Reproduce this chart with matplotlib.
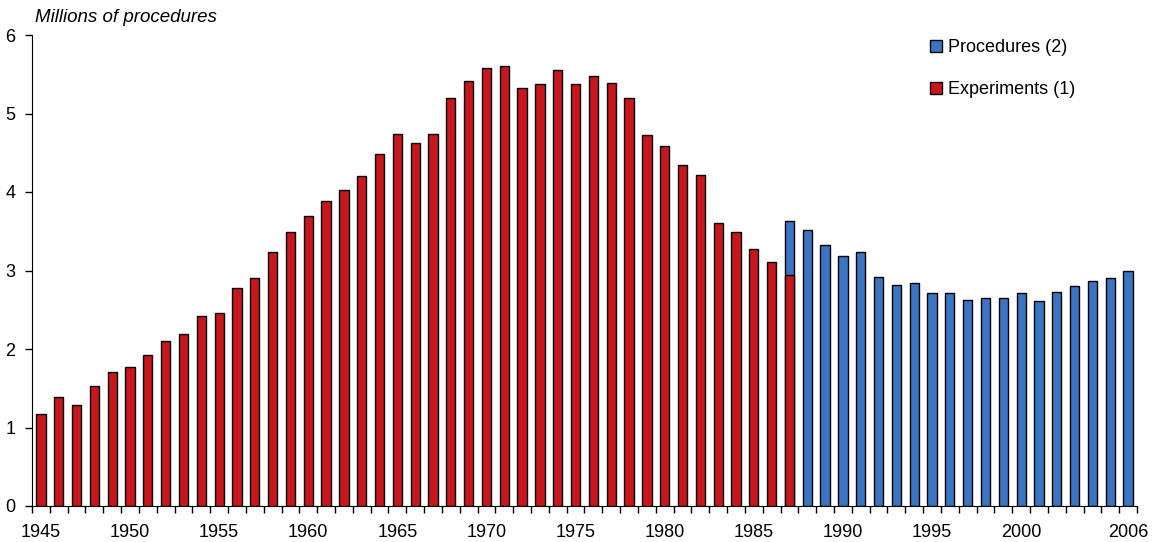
import numpy as np
import matplotlib.pyplot as plt

plt.rcParams['font.family'] = ['Liberation Sans', 'DejaVu Sans']

# Experiments (1), 1945-1987
exp_years = np.arange(1945, 1988)
experiments = [1.17, 1.39, 1.29, 1.53, 1.71, 1.77, 1.92, 2.10, 2.19, 2.42,
               2.46, 2.78, 2.90, 3.24, 3.49, 3.69, 3.89, 4.03, 4.20, 4.49,
               4.74, 4.62, 4.74, 5.20, 5.41, 5.58, 5.61, 5.33, 5.38, 5.56,
               5.38, 5.48, 5.39, 5.20, 4.72, 4.58, 4.35, 4.22, 3.61, 3.49,
               3.28, 3.11, 2.94]

# Procedures (2), 1987-2006
proc_years = np.arange(1987, 2007)
procedures = [3.63, 3.51, 3.32, 3.19, 3.24, 2.92, 2.82, 2.84, 2.71, 2.71,
              2.63, 2.65, 2.65, 2.71, 2.61, 2.73, 2.80, 2.86, 2.90, 3.00]

label_years = [1945, 1950, 1955, 1960, 1965, 1970, 1975, 1980, 1985,
               1990, 1995, 2000, 2006]

red = '#C8161D'
blue = '#3A75C2'

fig = plt.figure(figsize=(11.56, 5.42), dpi=100)
ax = fig.add_axes([32/1156, 36/542, (1137-32)/1156, (506-35)/542])

ax.bar(proc_years, procedures, width=0.52, color=blue, edgecolor='black',
       linewidth=1.0, label='Procedures (2)', zorder=2)
ax.bar(exp_years, experiments, width=0.52, color=red, edgecolor='black',
       linewidth=1.0, label='Experiments (1)', zorder=3)

ax.set_xlim(1944.5, 2006.5)
ax.set_ylim(0, 6)
ax.set_yticks(range(0, 7))
ax.set_xticks(label_years)
ax.set_xticks(np.arange(1944.5, 2007, 1), minor=True)
ax.tick_params(axis='x', which='major', length=0, pad=13, labelsize=13)
ax.tick_params(axis='x', which='minor', length=5, width=1, direction='out')
ax.tick_params(axis='y', length=5, width=1, pad=7, labelsize=13)

for s in ['top', 'right']:
    ax.spines[s].set_visible(False)

fig.text(35/1156, 1 - 17/542, 'Millions of procedures', fontsize=13.5,
         style='italic', va='center', ha='left')

leg = ax.legend(loc='upper left', bbox_to_anchor=(0.798, 1.025), frameon=False,
                handlelength=0.65, handleheight=0.65, handletextpad=0.35,
                labelspacing=1.37, fontsize=13)

fig.savefig('out.png', dpi=100)
